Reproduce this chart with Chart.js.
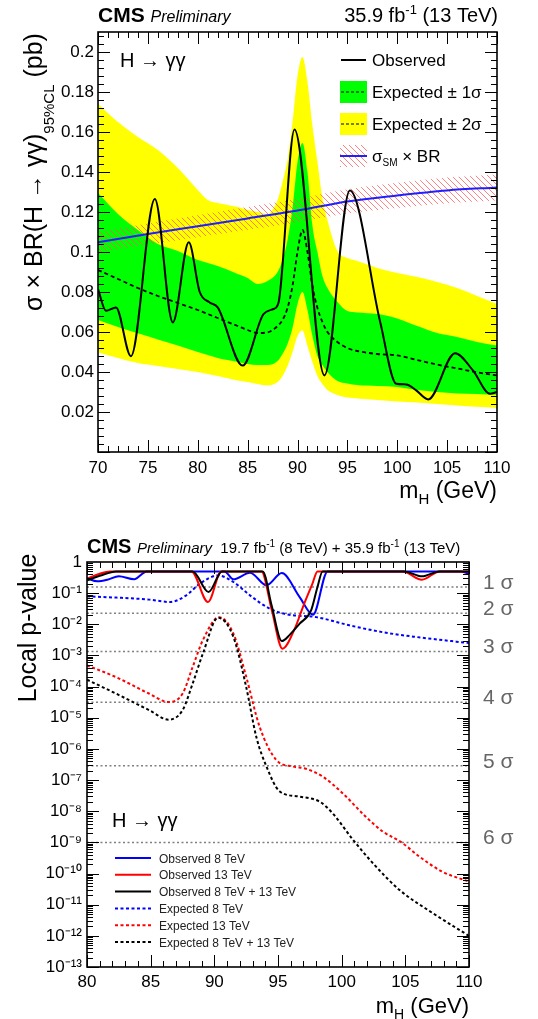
<!DOCTYPE html>
<html>
<head>
<meta charset="utf-8">
<title>H → γγ low-mass search</title>
<script src="https://cdn.jsdelivr.net/npm/chart.js@4.4.1/dist/chart.umd.min.js"></script>
<style>
  html, body { margin: 0; padding: 0; background: #fff; }
  .panel { position: absolute; left: 0; }
  #limitPanel { top: 0; }
  #pvalPanel { top: 510px; }
</style>
</head>
<body>
<canvas id="limitPanel" class="panel" width="538" height="510"></canvas>
<canvas id="pvalPanel" class="panel" width="538" height="509"></canvas>
<script>
// ---------- upper panel: 95% CL limit on sigma x BR ----------
const massTicksTop = [70, 75, 80, 85, 90, 95, 100, 105, 110];
const limitTicks = [0.02, 0.04, 0.06, 0.08, 0.1, 0.12, 0.14, 0.16, 0.18, 0.2];

const obsMass  = [70, 70.8, 71.8, 73.3, 75.7, 77.5, 79.1, 80.2, 81.2, 82.0, 84.5, 86.6, 87.6, 88.1, 89.7, 92.7, 95.25, 98.3, 99.9, 100.9, 101.9, 103.1, 105.8, 107.6, 109.3, 110];
const obsLimit = [0.0814, 0.0706, 0.0723, 0.0479, 0.1265, 0.0648, 0.1049, 0.080, 0.0748, 0.0723, 0.0432, 0.069, 0.0715, 0.0748, 0.1613, 0.0383, 0.1308, 0.0648, 0.0341, 0.0338, 0.0308, 0.0263, 0.0494, 0.0407, 0.0291, 0.030];

const bandMass = [70, 72, 74, 76, 78, 80, 81, 82, 84, 85, 86, 87, 88, 88.5, 89, 89.5, 90, 90.5, 91, 91.5, 92, 92.5, 93, 94, 95, 96, 98, 100, 102, 104, 106, 108, 110];
const expLimit = [0.091, 0.0865, 0.082, 0.078, 0.0745, 0.071, 0.069, 0.067, 0.063, 0.061, 0.0595, 0.0598, 0.063, 0.066, 0.072, 0.083, 0.100, 0.111, 0.100, 0.083, 0.072, 0.065, 0.060, 0.055, 0.052, 0.0505, 0.049, 0.0483, 0.046, 0.0437, 0.0418, 0.0398, 0.0383];
const exp1Up   = [0.1295, 0.119, 0.111, 0.104, 0.1005, 0.096, 0.0945, 0.093, 0.089, 0.087, 0.084, 0.0855, 0.090, 0.096, 0.106, 0.122, 0.145, 0.1545, 0.140, 0.113, 0.100, 0.088, 0.082, 0.075, 0.0705, 0.0698, 0.069, 0.0668, 0.063, 0.0595, 0.0575, 0.055, 0.0532];
const exp1Down = [0.066, 0.0625, 0.0594, 0.0563, 0.0532, 0.050, 0.0485, 0.047, 0.045, 0.044, 0.0435, 0.0435, 0.0455, 0.049, 0.054, 0.062, 0.074, 0.080, 0.071, 0.058, 0.048, 0.0435, 0.040, 0.0355, 0.0343, 0.0335, 0.033, 0.0325, 0.031, 0.030, 0.0293, 0.029, 0.0286];
const exp2Up   = [0.174, 0.165, 0.1575, 0.151, 0.142, 0.131, 0.126, 0.1245, 0.1225, 0.121, 0.120, 0.119, 0.126, 0.135, 0.146, 0.165, 0.188, 0.1975, 0.185, 0.163, 0.145, 0.127, 0.116, 0.1005, 0.097, 0.0955, 0.092, 0.0895, 0.0875, 0.085, 0.082, 0.078, 0.074];
const exp2Down = [0.0499, 0.047, 0.0445, 0.043, 0.0415, 0.040, 0.039, 0.038, 0.0358, 0.035, 0.034, 0.0333, 0.035, 0.038, 0.043, 0.050, 0.058, 0.0607, 0.053, 0.045, 0.038, 0.034, 0.031, 0.0285, 0.0272, 0.0268, 0.026, 0.0253, 0.0247, 0.024, 0.0233, 0.0226, 0.022];

const smMass  = [70, 75, 80, 85, 90, 95, 100, 105, 110];
const smXsec  = [0.1049, 0.1090, 0.1129, 0.1168, 0.1207, 0.1253, 0.1283, 0.1308, 0.1323];
const smUp    = [0.1100, 0.1143, 0.1184, 0.1225, 0.1266, 0.1314, 0.1346, 0.1372, 0.1388];
const smDown  = [0.0998, 0.1037, 0.1074, 0.1111, 0.1148, 0.1192, 0.1220, 0.1244, 0.1258];

// ---------- lower panel: local p-values ----------
const massTicksBottom = [80, 85, 90, 95, 100, 105, 110];
const pTicks = [1, 1e-1, 1e-2, 1e-3, 1e-4, 1e-5, 1e-6, 1e-7, 1e-8, 1e-9, 1e-10, 1e-11, 1e-12, 1e-13];
const pTickLabels = ['1', '10⁻¹', '10⁻²', '10⁻³', '10⁻⁴', '10⁻⁵', '10⁻⁶', '10⁻⁷', '10⁻⁸', '10⁻⁹', '10⁻¹⁰', '10⁻¹¹', '10⁻¹²', '10⁻¹³'];

const obs8Mass = [80, 80.8, 81.6, 82.5, 83.7, 84.7, 90.8, 91.5, 92.8, 94.1, 95.3, 96.7, 97.75, 98.9, 109.3, 110];
const obs8P    = [0.30, 0.24, 0.27, 0.35, 0.28, 0.5, 0.5, 0.28, 0.45, 0.18, 0.44, 0.075, 0.0204, 0.5, 0.5, 0.42];

const obs13Mass = [80, 81, 81.8, 88.2, 89.5, 90.55, 93.7, 94.5, 95.35, 96.3, 97.0, 97.7, 98.1, 104.8, 106.3, 107.7, 110];
const obs13P    = [0.29, 0.42, 0.5, 0.5, 0.052, 0.5, 0.5, 0.03, 0.00165, 0.007, 0.04, 0.2, 0.5, 0.5, 0.27, 0.5, 0.5];

const obsCombMass = [80, 81, 82.3, 88.3, 89.55, 90.6, 93.8, 94.5, 95.3, 95.9, 96.7, 97.6, 98.1, 98.5, 104.9, 106.3, 107.7, 110];
const obsCombP    = [0.26, 0.36, 0.5, 0.5, 0.109, 0.5, 0.5, 0.04, 0.0029, 0.0045, 0.0105, 0.028, 0.158, 0.5, 0.5, 0.347, 0.5, 0.5];

const exp8Mass = [80, 82.3, 84.9, 86.5, 87.8, 88.85, 90.3, 91.5, 92.8, 94.35, 95.65, 98, 100.6, 103.2, 105.9, 110];
const exp8P    = [0.079, 0.072, 0.062, 0.052, 0.085, 0.20, 0.37, 0.228, 0.085, 0.0317, 0.021, 0.017, 0.0093, 0.0056, 0.0039, 0.0025];

const exp13Mass = [80, 82.3, 84.9, 86.4, 87.5, 88.3, 89.1, 90.37, 91.5, 92.5, 93.56, 94.87, 96.2, 97.2, 98.5, 100.1, 101.9, 103.25, 104.7, 106.1, 107.9, 110];
const exp13P    = [4.8e-4, 2.0e-4, 5.9e-5, 3.2e-5, 5.9e-5, 4.3e-4, 3.1e-3, 0.017, 5.0e-3, 2.1e-4, 5.1e-6, 4.4e-7, 2.7e-7, 2.3e-7, 1.3e-7, 3.7e-8, 6.6e-9, 2.2e-9, 1.0e-9, 3.5e-10, 1.15e-10, 5.5e-11];

const expCombMass = [80, 82.3, 84.9, 86.4, 87.5, 88.3, 89.1, 90.3, 91.5, 92.5, 93.3, 94.1, 95.14, 96.7, 98.3, 99.3, 100.9, 102.7, 104.55, 107.2, 110];
const expCombP    = [1.67e-4, 5.9e-5, 1.74e-5, 8.7e-6, 1.74e-5, 1.26e-4, 1.15e-3, 0.0163, 3.9e-3, 9.8e-5, 2.4e-6, 2.7e-7, 4.3e-8, 2.95e-8, 2.0e-8, 8.5e-9, 1.2e-9, 1.66e-10, 2.95e-11, 5.2e-12, 1.0e-12];

const sigmaP = [0.1587, 0.02275, 0.00135, 3.17e-5, 2.87e-7, 9.87e-10];
const sigmaLabels = ['1 σ', '2 σ', '3 σ', '4 σ', '5 σ', '6 σ'];

const FONT = "'Liberation Sans', Arial, Helvetica, sans-serif";
Chart.defaults.font.family = FONT;
Chart.defaults.color = '#000';

function pts(xs, ys) {
    return xs.map((x, i) => ({ x: x, y: ys[i] }));
}

// red diagonal hatching for the SM band
function makeHatch() {
    const c = document.createElement('canvas');
    c.width = 6; c.height = 6;
    const g = c.getContext('2d');
    g.strokeStyle = 'rgba(250, 90, 90, 0.75)';
    g.lineWidth = 1;
    g.beginPath();
    g.moveTo(-1, -1); g.lineTo(7, 7);
    g.moveTo(-1, 5); g.lineTo(1, 7);
    g.moveTo(5, -1); g.lineTo(7, 1);
    g.stroke();
    return document.createElement('canvas').getContext('2d').createPattern(c, 'repeat');
}
const hatch = makeHatch();

// text made of runs with different size / offset (sub- and superscripts)
function drawRuns(ctx, x, y, parts, align) {
    let total = 0;
    parts.forEach(p => {
        ctx.font = (p.style || '') + ' ' + (p.weight || '') + ' ' + p.size + 'px ' + FONT;
        p.w = ctx.measureText(p.t).width;
        total += p.w;
    });
    let cx = align === 'right' ? x - total : (align === 'center' ? x - total / 2 : x);
    parts.forEach(p => {
        ctx.font = (p.style || '') + ' ' + (p.weight || '') + ' ' + p.size + 'px ' + FONT;
        ctx.fillStyle = p.color || '#000';
        ctx.fillText(p.t, cx, y + (p.dy || 0));
        cx += p.w;
    });
}

// ROOT-like frame with inward ticks on all four sides
const frameTicks = {
    id: 'frameTicks',
    afterDatasetsDraw(chart, args, opts) {
        const { ctx, chartArea: a } = chart;
        const x = chart.scales.x, y = chart.scales.y;
        ctx.save();
        ctx.strokeStyle = '#000';
        ctx.lineWidth = 1;
        ctx.beginPath();
        const nx = Math.round((x.max - x.min) / opts.xMinor);
        for (let i = 0; i <= nx; i++) {
            const px = Math.round(x.getPixelForValue(x.min + i * opts.xMinor)) + 0.5;
            const len = i % opts.xPer === 0 ? opts.major : opts.minor;
            ctx.moveTo(px, a.bottom); ctx.lineTo(px, a.bottom - len);
            ctx.moveTo(px, a.top); ctx.lineTo(px, a.top + len);
        }
        const yVals = [];
        if (opts.log) {
            for (let d = -13; d < 0; d++) {
                for (let k = 1; k <= 9; k++) yVals.push([k * Math.pow(10, d), k === 1]);
            }
        } else {
            const ny = Math.floor((y.max - y.min) / opts.yMinor + 1e-6);
            for (let i = 0; i <= ny; i++) yVals.push([y.min + i * opts.yMinor, i % opts.yPer === 0]);
        }
        yVals.forEach(([v, major]) => {
            const py = Math.round(y.getPixelForValue(v)) + 0.5;
            const len = major ? opts.major : opts.minor;
            ctx.moveTo(a.left, py); ctx.lineTo(a.left + len, py);
            ctx.moveTo(a.right, py); ctx.lineTo(a.right - len, py);
        });
        ctx.stroke();
        ctx.lineWidth = 1.6;
        ctx.strokeRect(a.left, a.top, a.right - a.left, a.bottom - a.top);
        ctx.restore();
    }
};

// titles, labels and legend of the limit panel
const limitDecor = {
    id: 'limitDecor',
    afterDraw(chart) {
        const ctx = chart.ctx;
        ctx.save();
        ctx.textBaseline = 'alphabetic';
        drawRuns(ctx, 98, 22, [{ t: 'CMS', size: 21, weight: 'bold' }, { t: ' ', size: 21 }, { t: 'Preliminary', size: 16, style: 'italic' }], 'left');
        drawRuns(ctx, 498, 22, [{ t: '35.9 fb', size: 20 }, { t: '-1', size: 13, dy: -8 }, { t: ' (13 TeV)', size: 20 }], 'right');
        drawRuns(ctx, 497, 498, [{ t: 'm', size: 23 }, { t: 'H', size: 15, dy: 6 }, { t: ' (GeV)', size: 23 }], 'right');
        drawRuns(ctx, 120, 67, [{ t: 'H → γγ', size: 20 }], 'left');

        ctx.save();
        ctx.translate(42, 172);
        ctx.rotate(-Math.PI / 2);
        drawRuns(ctx, 0, 0, [{ t: 'σ × BR(H → γγ)', size: 25 }, { t: '95%CL', size: 15, dy: 12 }, { t: ' (pb)', size: 25 }], 'center');
        ctx.restore();

        // legend
        const lx = 340, lw = 27;
        ctx.strokeStyle = '#000';
        ctx.lineWidth = 2;
        ctx.beginPath(); ctx.moveTo(lx + 1, 60); ctx.lineTo(lx + lw - 1, 60); ctx.stroke();
        drawRuns(ctx, 372, 66, [{ t: 'Observed', size: 17 }], 'left');

        ctx.fillStyle = '#00ff00'; ctx.fillRect(lx, 81, lw, 22);
        ctx.fillStyle = '#ffff00'; ctx.fillRect(lx, 113, lw, 22);
        ctx.lineWidth = 1.2;
        ctx.setLineDash([3, 2]);
        ctx.beginPath();
        ctx.moveTo(lx + 1, 92); ctx.lineTo(lx + lw - 1, 92);
        ctx.moveTo(lx + 1, 124); ctx.lineTo(lx + lw - 1, 124);
        ctx.stroke();
        ctx.setLineDash([]);
        drawRuns(ctx, 372, 98, [{ t: 'Expected ± 1σ', size: 17 }], 'left');
        drawRuns(ctx, 372, 130, [{ t: 'Expected ± 2σ', size: 17 }], 'left');

        ctx.fillStyle = hatch; ctx.fillRect(lx, 145, lw, 22);
        ctx.strokeStyle = '#1f1fff'; ctx.lineWidth = 2;
        ctx.beginPath(); ctx.moveTo(lx, 156); ctx.lineTo(lx + lw, 156); ctx.stroke();
        drawRuns(ctx, 372, 162, [{ t: 'σ', size: 17 }, { t: 'SM', size: 10, dy: 4 }, { t: ' × BR', size: 17 }], 'left');
        ctx.restore();
    }
};

// titles, sigma labels and legend of the p-value panel
const pvalDecor = {
    id: 'pvalDecor',
    afterDraw(chart) {
        const ctx = chart.ctx;
        const y = chart.scales.y;
        ctx.save();
        ctx.textBaseline = 'alphabetic';
        drawRuns(ctx, 87, 43, [{ t: 'CMS', size: 20, weight: 'bold' }, { t: ' ', size: 20 }, { t: 'Preliminary', size: 15, style: 'italic' },
            { t: '  19.7 fb', size: 15 }, { t: '-1', size: 10, dy: -6 }, { t: ' (8 TeV) + 35.9 fb', size: 15 }, { t: '-1', size: 10, dy: -6 }, { t: ' (13 TeV)', size: 15 }], 'left');
        drawRuns(ctx, 469, 503, [{ t: 'm', size: 22 }, { t: 'H', size: 14, dy: 6 }, { t: ' (GeV)', size: 22 }], 'right');
        drawRuns(ctx, 112, 317, [{ t: 'H → γγ', size: 20 }], 'left');

        ctx.save();
        ctx.translate(36, 118);
        ctx.rotate(-Math.PI / 2);
        drawRuns(ctx, 0, 0, [{ t: 'Local p-value', size: 25 }], 'center');
        ctx.restore();

        ctx.textBaseline = 'middle';
        sigmaP.forEach((p, i) => {
            drawRuns(ctx, 483, y.getPixelForValue(p) - 4, [{ t: sigmaLabels[i], size: 21, color: '#666' }], 'left');
        });

        // legend built from the curve datasets
        ctx.textBaseline = 'alphabetic';
        const rows = chart.data.datasets.filter(d => d.inLegend);
        rows.sort((a, b) => a.legendRow - b.legendRow);
        rows.forEach((d, i) => {
            const ry = 348 + i * 16.8;
            ctx.strokeStyle = d.borderColor;
            ctx.lineWidth = 2;
            ctx.setLineDash(d.borderDash || []);
            ctx.beginPath(); ctx.moveTo(115, ry); ctx.lineTo(151, ry); ctx.stroke();
            drawRuns(ctx, 159, ry + 4.5, [{ t: d.label, size: 12, color: '#222' }], 'left');
        });
        ctx.restore();
    }
};

const common = {
    responsive: false,
    animation: false,
    events: [],
    elements: {
        point: { radius: 0 },
        line: { cubicInterpolationMode: 'monotone', fill: false }
    },
    plugins: { legend: { display: false }, tooltip: { enabled: false } }
};

new Chart(document.getElementById('limitPanel'), {
    type: 'line',
    data: {
        datasets: [
            { label: 'Observed', data: pts(obsMass, obsLimit), borderColor: '#000', borderWidth: 2, order: 0 },
            { label: 'σSM × BR', data: pts(smMass, smXsec), borderColor: '#1f1fff', borderWidth: 2, order: 1 },
            { label: 'Expected', data: pts(bandMass, expLimit), borderColor: '#000', borderWidth: 1.8, borderDash: [4, 3], order: 2 },
            { label: 'SM up', data: pts(smMass, smUp), borderWidth: 0, borderColor: 'rgba(0,0,0,0)', backgroundColor: hatch, fill: { target: 4 }, order: 3 },
            { label: 'SM down', data: pts(smMass, smDown), borderWidth: 0, borderColor: 'rgba(0,0,0,0)', order: 3 },
            { label: '1σ up', data: pts(bandMass, exp1Up), borderWidth: 0, borderColor: 'rgba(0,0,0,0)', backgroundColor: '#00ff00', fill: { target: 6 }, order: 4 },
            { label: '1σ down', data: pts(bandMass, exp1Down), borderWidth: 0, borderColor: 'rgba(0,0,0,0)', order: 4 },
            { label: '2σ up', data: pts(bandMass, exp2Up), borderWidth: 0, borderColor: 'rgba(0,0,0,0)', backgroundColor: '#ffff00', fill: { target: 8 }, order: 5 },
            { label: '2σ down', data: pts(bandMass, exp2Down), borderWidth: 0, borderColor: 'rgba(0,0,0,0)', order: 5 }
        ]
    },
    options: {
        ...common,
        layout: { padding: { top: 32, right: 41, left: 0, bottom: 0 } },
        scales: {
            x: {
                type: 'linear', min: 70, max: 110,
                grid: { display: false, drawTicks: false }, border: { display: false },
                ticks: { font: { size: 17 }, padding: 6, maxRotation: 0, autoSkip: false },
                afterBuildTicks: s => { s.ticks = massTicksTop.map(v => ({ value: v })); },
                afterFit: s => { s.height = 58; }
            },
            y: {
                min: 0, max: 0.21,
                grid: { display: false, drawTicks: false }, border: { display: false },
                ticks: { font: { size: 17 }, padding: 4, autoSkip: false, callback: v => String(+v.toFixed(2)) },
                afterBuildTicks: s => { s.ticks = limitTicks.map(v => ({ value: v })); },
                afterFit: s => { s.width = 98; }
            }
        },
        plugins: {
            ...common.plugins,
            frameTicks: { xMinor: 1, xPer: 5, yMinor: 0.004, yPer: 5, major: 12, minor: 6 }
        }
    },
    plugins: [frameTicks, limitDecor]
});

const sigmaLines = sigmaP.map(p => ({
    label: 'sigma', data: [{ x: 80, y: p }, { x: 110, y: p }],
    borderColor: '#808080', borderWidth: 1.5, borderDash: [2, 2.5], order: 6
}));

new Chart(document.getElementById('pvalPanel'), {
    type: 'line',
    data: {
        datasets: [
            { label: 'Observed 8 TeV + 13 TeV', data: pts(obsCombMass, obsCombP), borderColor: '#000', borderWidth: 2, order: 0, inLegend: true, legendRow: 2 },
            { label: 'Observed 13 TeV', data: pts(obs13Mass, obs13P), borderColor: '#ff0000', borderWidth: 2, order: 1, inLegend: true, legendRow: 1 },
            { label: 'Observed 8 TeV', data: pts(obs8Mass, obs8P), borderColor: '#0000ff', borderWidth: 2, order: 2, inLegend: true, legendRow: 0 },
            { label: 'Expected 8 TeV + 13 TeV', data: pts(expCombMass, expCombP), borderColor: '#000', borderWidth: 2, borderDash: [3, 2.5], order: 3, inLegend: true, legendRow: 5 },
            { label: 'Expected 13 TeV', data: pts(exp13Mass, exp13P), borderColor: '#ff0000', borderWidth: 2, borderDash: [3, 2.5], order: 4, inLegend: true, legendRow: 4 },
            { label: 'Expected 8 TeV', data: pts(exp8Mass, exp8P), borderColor: '#0000ff', borderWidth: 2, borderDash: [3, 2.5], order: 5, inLegend: true, legendRow: 3 },
            ...sigmaLines
        ]
    },
    options: {
        ...common,
        layout: { padding: { top: 52, right: 69, left: 0, bottom: 0 } },
        scales: {
            x: {
                type: 'linear', min: 80, max: 110,
                grid: { display: false, drawTicks: false }, border: { display: false },
                ticks: { font: { size: 17 }, padding: 5, maxRotation: 0, autoSkip: false },
                afterBuildTicks: s => { s.ticks = massTicksBottom.map(v => ({ value: v })); },
                afterFit: s => { s.height = 52; }
            },
            y: {
                type: 'logarithmic', min: 1e-13, max: 1,
                grid: { display: false, drawTicks: false }, border: { display: false },
                ticks: { font: { size: 17 }, padding: 5, autoSkip: false, callback: (v, i) => pTickLabels[i] },
                afterBuildTicks: s => { s.ticks = pTicks.map(v => ({ value: v })); },
                afterFit: s => { s.width = 87; }
            }
        },
        plugins: {
            ...common.plugins,
            frameTicks: { xMinor: 1, xPer: 5, log: true, major: 12, minor: 6 }
        }
    },
    plugins: [frameTicks, pvalDecor]
});
</script>
</body>
</html>
